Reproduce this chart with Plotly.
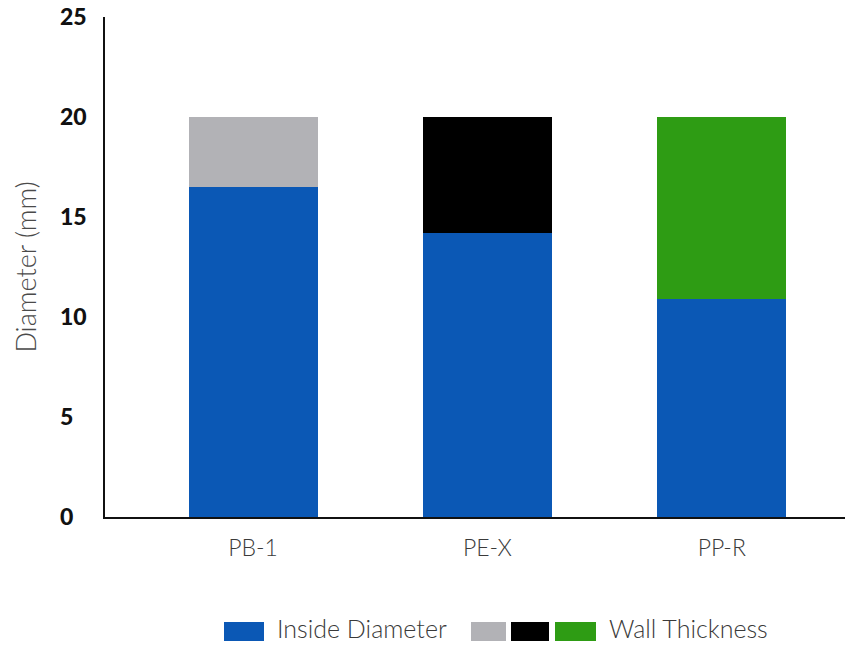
import plotly.graph_objects as go

# ---- data ----
categories = ["PB-1", "PE-X", "PP-R"]
inside_diameter = [16.5, 14.2, 10.9]
wall_thickness = [3.5, 5.8, 9.1]
y_ticks = [0, 5, 10, 15, 20, 25]
y_tick_labels = ["0\u2007", "5\u2007", "10", "15", "20", "25"]

# ---- styles ----
BLUE = "#0b58b5"
WALL_COLORS = ["#b2b2b6", "#000000", "#2e9c14"]
W, H = 845, 645
ML, MR, MT, MB = 105, 0, 17, 128
PW, PH = W - ML - MR, H - MT - MB

LIGHT = dict(family="Lato", size=23, color="#3a3a3a", weight=300)
LEGEND_FONT = dict(family="Lato", size=25, color="#3a3a3a", weight=300)
TITLE_FONT = dict(family="Lato", size=27, color="#4a4a4a", weight=300)
BOLD = dict(family="Lato", size=23, color="#111111", weight=900)

fig = go.Figure()
fig.add_trace(go.Bar(x=categories, y=inside_diameter, marker=dict(color=BLUE, line=dict(width=0)),
                     name="Inside Diameter", showlegend=False))
fig.add_trace(go.Bar(x=categories, y=wall_thickness, marker=dict(color=WALL_COLORS, line=dict(width=0)),
                     name="Wall Thickness", showlegend=False))


def px(x):
    return (x - ML) / PW


def py(y):
    return (H - MB - y) / PH


# legend drawn as swatches + labels
shapes = []
annotations = []
sw_y0, sw_y1 = 622, 641
text_y = 628
legend_items = [
    ("swatch", BLUE, 224, 264),
    ("text", "Inside Diameter", 275, None),
    ("swatch", WALL_COLORS[0], 471, 506),
    ("swatch", WALL_COLORS[1], 511, 549),
    ("swatch", WALL_COLORS[2], 555, 596),
    ("text", "Wall Thickness", 607, None),
]
for kind, val, a, b in legend_items:
    if kind == "swatch":
        shapes.append(dict(type="rect", xref="paper", yref="paper",
                           x0=px(a), x1=px(b), y0=py(sw_y1), y1=py(sw_y0),
                           fillcolor=val, line=dict(width=0)))
    else:
        annotations.append(dict(text=val, xref="paper", yref="paper", x=px(a), y=py(text_y),
                                xanchor="left", yanchor="middle", showarrow=False,
                                font=LEGEND_FONT))

fig.update_layout(
    width=W, height=H,
    margin=dict(l=ML, r=MR, t=MT, b=MB),
    paper_bgcolor="white", plot_bgcolor="white",
    barmode="stack", bargap=0.45,
    showlegend=False,
    shapes=shapes, annotations=annotations,
    xaxis=dict(range=[-0.632, 2.526], showline=True, linecolor="#111", linewidth=1.5,
               ticks="", showgrid=False, zeroline=False, tickfont=LIGHT, ticklabelstandoff=10),
    yaxis=dict(range=[0, 25], tickvals=y_ticks, ticktext=y_tick_labels, showline=True,
               linecolor="#111", linewidth=1.5, ticks="", showgrid=False, zeroline=False,
               tickfont=BOLD, ticklabelstandoff=12,
               title=dict(text="Diameter (mm)", font=TITLE_FONT, standoff=16)),
)

fig.write_html("out.html", config={"displayModeBar": False},
               post_script="document.body.style.margin='0px';document.body.style.overflow='hidden';")
